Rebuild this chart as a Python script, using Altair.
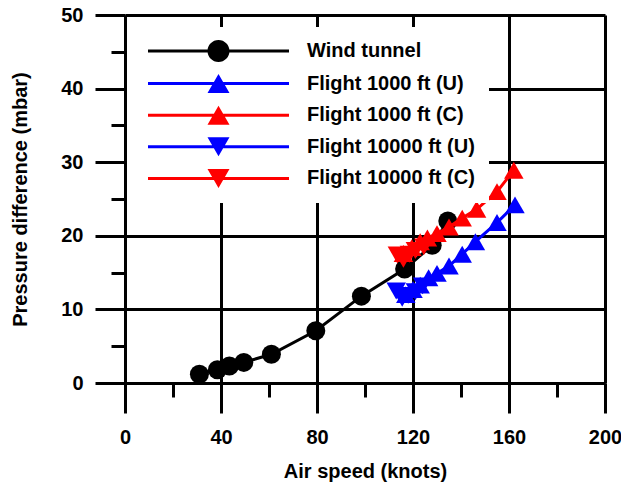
import altair as alt
import pandas as pd

# ---- data ----
series_names = ["Wind tunnel", "Flight 1000 ft (U)", "Flight 1000 ft (C)",
                "Flight 10000 ft (U)", "Flight 10000 ft (C)"]
series_colors = ["#000000", "#0000FF", "#FF0000", "#0000FF", "#FF0000"]
series_shapes = ["circle", "triangle-up", "triangle-up", "triangle-down", "triangle-down"]

wt_x = [31, 38.5, 43.5, 49.5, 61, 79.5, 98.5, 116.5, 128, 134.5]
wt_y = [1.2, 1.8, 2.3, 2.8, 3.9, 7.1, 11.8, 15.5, 18.7, 22.0]

f1u_x = [117, 120, 123, 126.5, 130, 135, 140.5, 146, 155, 162.5]
f1u_y = [12.0, 12.7, 13.3, 14.3, 14.9, 15.9, 17.5, 19.2, 21.8, 24.2]

f1c_x = [116, 119.5, 123, 126, 130, 135, 140.5, 146.5, 155, 162]
f1c_y = [17.6, 18.4, 19.2, 19.7, 20.3, 21.2, 22.4, 23.6, 26.0, 28.9]

f10u_x = [113, 115.5, 118, 121, 124]
f10u_y = [12.5, 11.5, 11.9, 12.4, 13.2]

f10c_x = [113.5, 116, 118.5, 121, 124.5]
f10c_y = [17.4, 16.8, 17.5, 18.0, 18.5]

x_ticks = [0, 20, 40, 60, 80, 100, 120, 140, 160, 180, 200]
y_ticks = [0, 5, 10, 15, 20, 25, 30, 35, 40, 45, 50]

all_x = [wt_x, f1u_x, f1c_x, f10u_x, f10c_x]
all_y = [wt_y, f1u_y, f1c_y, f10u_y, f10c_y]

rows = []
for name, xs, ys in zip(series_names, all_x, all_y):
    for a, b in zip(xs, ys):
        rows.append({"series": name, "speed": a, "dp": b})
df = pd.DataFrame(rows)

FONT = "Liberation Sans"

# legend symbols: a horizontal line with the marker on top (unit = sqrt(size)/2 px)
bar = "M-7.05,-0.15 L7.05,-0.15 L7.05,0.15 L-7.05,0.15 Z "
circ = "M-1.1,0 A1.1,1.1 0 1,1 1.1,0 A1.1,1.1 0 1,1 -1.1,0 Z"
tri_up = "M0,-0.95 L1.1,0.95 L-1.1,0.95 Z"
tri_dn = "M0,0.95 L-1.1,-0.95 L1.1,-0.95 Z"
legend_paths = [bar + circ, bar + tri_up, bar + tri_up, bar + tri_dn, bar + tri_dn]

x_scale = alt.Scale(domain=[0, 200], nice=False, zero=False)
y_scale = alt.Scale(domain=[0, 50], nice=False, zero=False)

x_axis = alt.Axis(
    values=x_ticks, title="Air speed (knots)",
    labelExpr="datum.value % 40 === 0 ? datum.label : ''",
    tickSize={"condition": {"test": "datum.value % 40 === 0", "value": 30}, "value": 14},
    gridOpacity={"condition": {"test": "datum.value % 40 === 0", "value": 1}, "value": 0},
    grid=True, gridColor="black", gridWidth=3,
    tickColor="black", tickWidth=3, domainColor="black", domainWidth=3,
    labelFont=FONT, labelFontSize=20, labelFontWeight="bold", labelColor="black",
    labelPadding=14, labelFlush=False,
    titleFont=FONT, titleFontSize=20, titleFontWeight="bold", titleColor="black",
    titlePadding=14,
)
y_axis = alt.Axis(
    values=y_ticks, title="Pressure difference (mbar)",
    labelExpr="datum.value % 10 === 0 ? datum.label : ''",
    tickSize={"condition": {"test": "datum.value % 10 === 0", "value": 30}, "value": 14},
    gridOpacity={"condition": {"test": "datum.value % 10 === 0", "value": 1}, "value": 0},
    grid=True, gridColor="black", gridWidth=3,
    tickColor="black", tickWidth=3, domainColor="black", domainWidth=3,
    labelFont=FONT, labelFontSize=20, labelFontWeight="bold", labelColor="black",
    labelPadding=12, labelFlush=False,
    titleFont=FONT, titleFontSize=20, titleFontWeight="bold", titleColor="black",
    titlePadding=30,
)

base = alt.Chart(df)

layers = []
# layer with no drawn rows that carries the legend (line + marker symbols)
layers.append(
    base.transform_filter("false").mark_point(filled=True, opacity=1).encode(
        x=alt.X("speed:Q", scale=x_scale, axis=x_axis),
        y=alt.Y("dp:Q", scale=y_scale, axis=y_axis),
        color=alt.Color("series:N", scale=alt.Scale(domain=series_names, range=series_colors),
                        legend=alt.Legend(
                            title=None, orient="none", legendX=2, legendY=12,
                            fillColor="white", padding=14,
                            symbolSize=400, symbolStrokeWidth=0, symbolOpacity=1,
                            symbolOffset=67.5, labelOffset=78.5, rowPadding=11.6,
                            labelFont=FONT, labelFontSize=20, labelFontWeight="bold",
                            labelColor="black", labelLimit=400)),
        shape=alt.Shape("series:N", scale=alt.Scale(domain=series_names, range=legend_paths)),
    )
)

for name, col, shp in zip(series_names, series_colors, series_shapes):
    sub = base.transform_filter(alt.datum.series == name)
    layers.append(
        sub.mark_line(color=col, strokeWidth=3).encode(
            x=alt.X("speed:Q", scale=x_scale, axis=x_axis),
            y=alt.Y("dp:Q", scale=y_scale, axis=y_axis),
        )
    )
    size = 361 if shp == "circle" else 380
    layers.append(
        sub.mark_point(filled=True, shape=shp, size=size, color=col, opacity=1).encode(
            x=alt.X("speed:Q", scale=x_scale, axis=x_axis),
            y=alt.Y("dp:Q", scale=y_scale, axis=y_axis),
        )
    )

chart = alt.layer(*layers).properties(
    width=480, height=368,
    autosize=alt.AutoSizeParams(type="none"),
    padding={"left": 125, "top": 15, "right": 16, "bottom": 114},
    background="white",
).configure_view(stroke=None)

chart.save("out.html", embed_options={"renderer": "svg", "actions": False})
